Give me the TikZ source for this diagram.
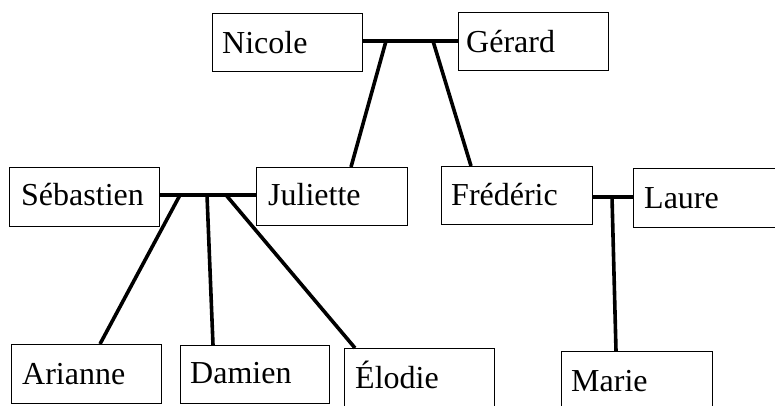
\documentclass[tikz,border=0pt]{standalone}
\usepackage{fontspec}
\setmainfont{Liberation Serif}
\usetikzlibrary{calc}
\tikzset{
  person/.style={draw=black, line width=0.9pt, minimum width=150pt, minimum height=58pt, anchor=north west, inner sep=0pt},
  pname/.style={anchor=base west, inner sep=0pt, font=\fontsize{32}{36}\selectfont},
  link/.style={draw=black, line width=3.6pt}
}
\begin{document}
\begin{tikzpicture}[x=1pt,y=-1pt]
\useasboundingbox (0,0) rectangle (775,405);
\clip (0,0) rectangle (775,405);
% boxes
\node[person] (nicole) at (212,13) {};
\node[person] (gerard) at (458,12) {};
\node[person, minimum height=59pt] (sebastien) at (9,167) {};
\node[person, minimum width=151pt] (juliette) at (256,167) {};
\node[person, minimum width=151pt] (frederic) at (441,166) {};
\node[person, minimum height=59pt] (laure) at (633,168) {};
\node[person, minimum height=59pt] (arianne) at (11,344) {};
\node[person, minimum width=149pt] (damien) at (180,345) {};
\node[person] (elodie) at (344,348) {};
\node[person, minimum width=151pt] (marie) at (561,351) {};
% names
\node[pname] (nicoleT) at (222,53) {Nicole};
\node[pname] (gerardT) at (466,52) {Gérard};
\node[pname] (sebastienT) at (21,205) {Sébastien};
\node[pname] (julietteT) at (268,205) {Juliette};
\node[pname] (fredericT) at (451,205) {Frédéric};
\node[pname] (laureT) at (644,208) {Laure};
\node[pname] (arianneT) at (22,384) {Arianne};
\node[pname] (damienT) at (190,383) {Damien};
\node[pname] (elodieT) at (355,388) {Élodie};
\node[pname] (marieT) at (571,391) {Marie};
% junction points
\coordinate (p1) at (386,41);
\coordinate (p2) at (433,41);
\coordinate (julTop) at (351,167);
\coordinate (freTop) at (471,166);
\coordinate (c1) at (180,195);
\coordinate (c2) at (207,195);
\coordinate (c3) at (226,195);
\coordinate (ariTop) at (100,344);
\coordinate (damTop) at (213,345);
\coordinate (eloTop) at (355,348);
\coordinate (m1) at (612,197);
\coordinate (marTop) at (616,351);
% connectors
\draw[link] (nicole.east |- 0,41) -- (gerard.west |- 0,41);
\draw[link] (p1) -- (julTop);
\draw[link] (p2) -- (freTop);
\draw[link] (sebastien.east |- 0,195) -- (juliette.west |- 0,195);
\draw[link] (c1) -- (ariTop);
\draw[link] (c2) -- (damTop);
\draw[link] (c3) -- (eloTop);
\draw[link] (frederic.east |- 0,197) -- (laure.west |- 0,197);
\draw[link] (m1) -- (marTop);
\end{tikzpicture}
\end{document}
